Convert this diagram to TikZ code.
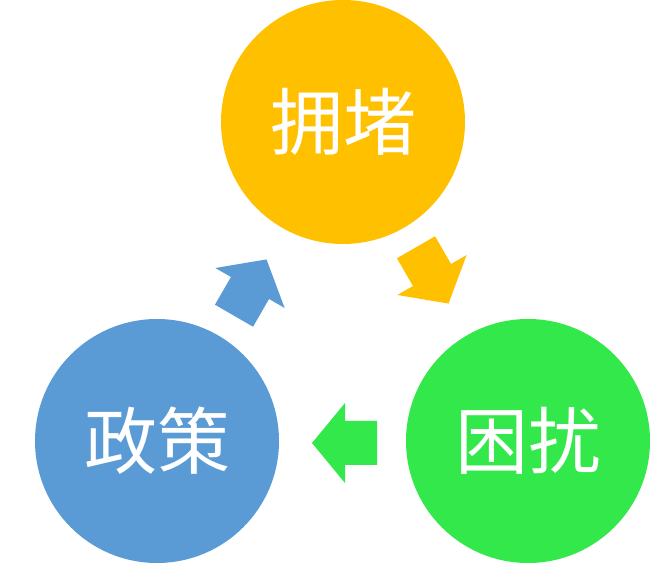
\documentclass[tikz,border=0pt]{standalone}
\usepackage{fontspec}
\newfontfamily\cjk{Noto Sans CJK SC}
\definecolor{cy}{HTML}{FFC000}
\definecolor{cg}{HTML}{33E84A}
\definecolor{cb}{HTML}{5B9BD5}
\tikzset{disc/.style={circle,minimum size=244pt,inner sep=0pt,text=white,font=\cjk\fontsize{73}{80}\selectfont},
 blockarrow/.pic={\fill (-32,-22)--(0,-22)--(0,-40)--(33,0)--(0,40)--(0,22)--(-32,22)--cycle;}}
\begin{document}
\begin{tikzpicture}[x=1pt,y=1pt]
\useasboundingbox (0,0) rectangle (662,584);
\node[disc,fill=cy] (top) at (343,462) {拥堵};
\node[disc,fill=cg] (right) at (528,143) {困扰};
\node[disc,fill=cb] (left) at (157,143) {政策};
\pic[fill=cy,rotate=-60] (ay) at (432,309) {blockarrow};
\pic[fill=cg,rotate=180] (ag) at (345,141) {blockarrow};
\pic[fill=cb,rotate=60] (ab) at (250,296) {blockarrow};
\end{tikzpicture}
\end{document}
